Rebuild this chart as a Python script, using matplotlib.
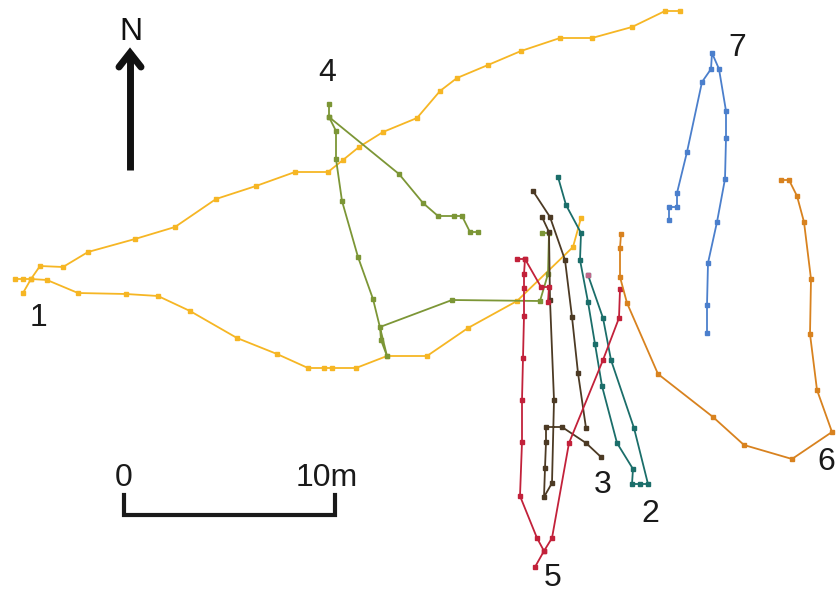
import matplotlib.pyplot as plt

plt.rcParams["font.family"] = ["Liberation Sans", "DejaVu Sans"]

# plan coordinates of the tracked paths (1 unit = 1/21.1 m, y grows southwards)
# track 1 (yellow): northern arm and southern arm
t1a_x = [23, 31, 40, 63, 88, 135, 175, 216, 256, 295, 328, 343, 359, 383, 417, 440, 457, 488, 521, 560, 592, 632, 665, 680]
t1a_y = [293, 279, 266, 267, 252, 239, 227, 199, 186, 172, 172, 160, 147, 132, 118, 91, 78, 65, 51, 38, 38, 27, 11, 11]
t1b_x = [15, 23, 31, 47, 78, 126, 158, 190, 237, 277, 308, 324, 332, 356, 387, 427, 468, 517, 573, 581]
t1b_y = [279, 279, 279, 280, 293, 294, 296, 311, 338, 354, 368, 368, 368, 368, 356, 356, 328, 301, 247, 218]

# track 2 (teal)
t2_x = [558, 566, 581, 580, 588, 595, 602, 617, 633, 632, 640, 648, 634, 611, 603, 588]
t2_y = [177, 205, 233, 260, 302, 344, 386, 443, 469, 484, 484, 484, 428, 360, 318, 275]

# track 3 (dark brown)
t3a_x = [533, 550, 565, 572, 578, 586]
t3a_y = [191, 217, 260, 317, 373, 428]
t3b_x = [542, 549, 550, 554, 552, 544, 545, 546, 546, 562, 586, 601]
t3b_y = [217, 232, 300, 400, 483, 497, 468, 442, 427, 427, 443, 457]

# track 4 (olive)
t4a_x = [329, 329, 336, 336, 342, 358, 373, 387, 381, 380, 452, 540, 548, 549, 542]
t4a_y = [104, 117, 131, 159, 201, 257, 299, 356, 340, 327, 300, 301, 274, 233, 233]
t4b_x = [329, 399, 423, 438, 454, 462, 470, 478]
t4b_y = [117, 174, 203, 216, 216, 216, 232, 232]

# track 5 (red)
t5a_x = [517, 525, 524, 524, 524, 523, 522, 522, 520, 537, 544, 552, 569, 603, 619, 620]
t5a_y = [259, 259, 274, 288, 316, 358, 400, 442, 496, 538, 551, 538, 443, 360, 318, 289]
t5b_x = [525, 541, 549, 548]
t5b_y = [259, 287, 287, 302]
t5c_x = [544, 535]
t5c_y = [551, 567]

# track 6 (orange)
t6_x = [621, 620, 620, 627, 658, 713, 744, 792, 832, 817, 810, 811, 804, 797, 789, 781]
t6_y = [234, 248, 277, 303, 374, 417, 445, 459, 432, 390, 334, 279, 222, 196, 180, 180]

# track 7 (blue)
t7_x = [669, 669, 677, 677, 687, 702, 711, 712, 719, 726, 726, 725, 717, 708, 707, 707]
t7_y = [220, 207, 207, 193, 152, 82, 69, 53, 69, 111, 138, 179, 222, 263, 305, 333]

tracks = [
    ("#F6B624", [(t1a_x, t1a_y), (t1b_x, t1b_y)]),
    ("#7C9636", [(t4a_x, t4a_y), (t4b_x, t4b_y)]),
    ("#1B6E6A", [(t2_x, t2_y)]),
    ("#4C3A24", [(t3a_x, t3a_y), (t3b_x, t3b_y)]),
    ("#C2213A", [(t5a_x, t5a_y), (t5b_x, t5b_y), (t5c_x, t5c_y)]),
    ("#D8821F", [(t6_x, t6_y)]),
    ("#4B7FCC", [(t7_x, t7_y)]),
]

labels = ["1", "2", "3", "4", "5", "6", "7"]
label_x = [38, 650, 603, 327, 553, 826, 737]
label_y = [318, 514, 485, 73, 578, 462, 48]

fig = plt.figure(figsize=(8.39, 5.92), dpi=100)
ax = fig.add_axes([0, 0, 1, 1])
ax.set_xlim(0, 839)
ax.set_ylim(592, 0)
ax.axis("off")

for color, parts in tracks:
    for xs, ys in parts:
        ax.plot(xs, ys, "-s", color=color, lw=1.3, ms=3.2, mec=color)

# pink start marker of track 2
ax.plot([588], [275], "s", color="#C0668A", ms=3.5)

for lab, x, y in zip(labels, label_x, label_y):
    ax.text(x, y, lab, fontsize=23, ha="center", va="center", color="#1a1a1a")

# north arrow
ax.plot([130, 130], [170, 52], color="#111111", lw=5, solid_capstyle="butt")
ax.plot([119, 130, 141], [67, 53, 67], color="#111111", lw=5,
        solid_capstyle="round", solid_joinstyle="miter")
ax.text(131, 32, "N", fontsize=23, ha="center", va="center", color="#111111")

# scale bar
ax.plot([124, 124, 335, 335], [495, 515, 515, 495], color="#1a1a1a", lw=3,
        solid_joinstyle="miter")
ax.text(124, 478, "0", fontsize=23, ha="center", va="center", color="#1a1a1a")
ax.text(327, 478, "10m", fontsize=23, ha="center", va="center", color="#1a1a1a")

fig.savefig("out.png", dpi=100)
